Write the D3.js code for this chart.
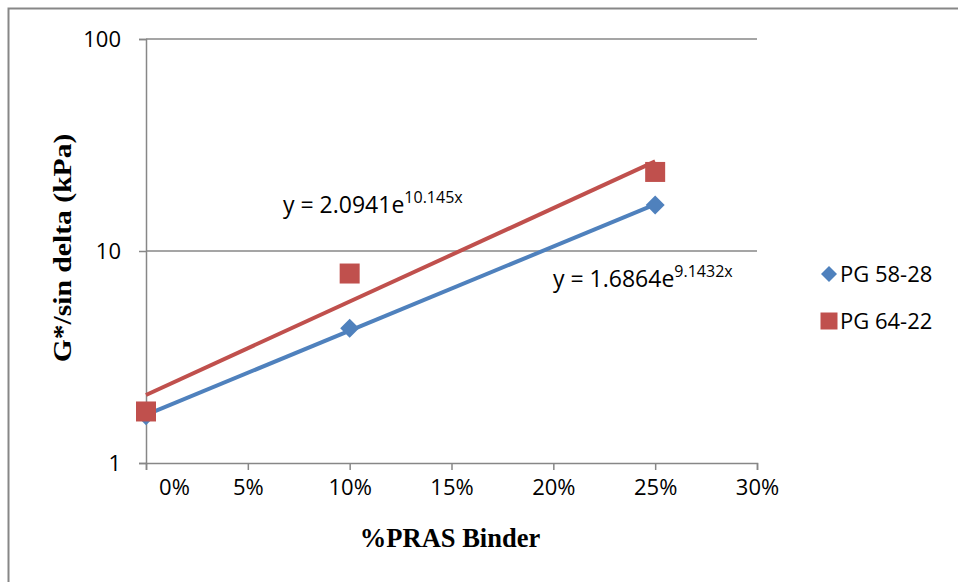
<!DOCTYPE html>
<html>
<head>
<meta charset="utf-8">
<script src="https://cdnjs.cloudflare.com/ajax/libs/d3/7.8.5/d3.min.js"></script>
<style>
  html, body { margin: 0; padding: 0; background: #fff; }
  svg { display: block; }
</style>
</head>
<body>
<svg id="chart" width="958" height="582"></svg>
<script>
// Binder content (fraction) and measured G*/sin(delta), kPa
const pras = [0, 0.10, 0.25];
const pg5828 = [1.67, 4.32, 16.5];
const pg6422 = [1.75, 7.83, 23.6];

const seriesNames = ["PG 58-28", "PG 64-22"];
const seriesColors = ["#4F81BD", "#C0504D"];

// Exponential trendline coefficients y = a * e^(b x)
const trendA = [1.6864, 2.0941];
const trendB = [9.1432, 10.145];
const trendLabelCoef = ["1.6864", "2.0941"];
const trendLabelExp = ["9.1432x", "10.145x"];

const xTicks = [0, 0.05, 0.10, 0.15, 0.20, 0.25, 0.30];
const yTicks = [1, 10, 100];

const svg = d3.select("#chart");
const labelFont = "'Open Sans', 'Noto Sans', sans-serif";
const titleFont = "'Liberation Serif', 'Times New Roman', serif";

// Outer chart frame (top and left edges)
svg.append("path")
  .attr("d", "M8.5,582 L8.5,8.5 L958,8.5")
  .attr("fill", "none")
  .attr("stroke", "#878787")
  .attr("stroke-width", 2);

const plot = { left: 146, right: 757, top: 39, bottom: 463 };

const x = d3.scaleLinear().domain([0, 0.30]).range([plot.left, plot.right]);
const y = d3.scaleLog().domain([1, 100]).range([plot.bottom, plot.top]);

const gridColor = "#878787";

// Horizontal gridlines
svg.append("g")
  .selectAll("line")
  .data(yTicks.filter(v => v > 1))
  .join("line")
  .attr("x1", plot.left).attr("x2", plot.right)
  .attr("y1", d => y(d)).attr("y2", d => y(d))
  .attr("stroke", gridColor).attr("stroke-width", 1.5);

// X axis
const xAxis = d3.axisBottom(x)
  .tickValues(xTicks)
  .tickFormat(d3.format(".0%"))
  .tickSize(7)
  .tickPadding(9);
const gx = svg.append("g")
  .attr("transform", `translate(0,${plot.bottom})`)
  .call(xAxis);
gx.select(".domain").attr("stroke", gridColor).attr("stroke-width", 1.5);
gx.selectAll(".tick line").attr("stroke", gridColor).attr("stroke-width", 1.5);
gx.selectAll(".tick text")
  .attr("font-family", labelFont).attr("font-size", 22).attr("fill", "#000");
// The first label sits just right of the value axis
gx.selectAll(".tick text").filter(d => d === 0).attr("dx", 28);

// Y axis
const yAxis = d3.axisLeft(y)
  .tickValues(yTicks)
  .tickFormat(d3.format("d"))
  .tickSize(7)
  .tickPadding(18);
const gy = svg.append("g")
  .attr("transform", `translate(${plot.left},0)`)
  .call(yAxis);
gy.select(".domain").attr("stroke", gridColor).attr("stroke-width", 1.5);
gy.selectAll(".tick line").attr("stroke", gridColor).attr("stroke-width", 1.5);
gy.selectAll(".tick text")
  .attr("font-family", labelFont).attr("font-size", 22).attr("fill", "#000");

// Trendlines
const line = d3.line().x(d => x(d[0])).y(d => y(d[1]));
trendA.forEach((a, i) => {
  const xs = [0, 0.25];
  const pts = xs.map(v => [v, a * Math.exp(trendB[i] * v)]);
  svg.append("path")
    .attr("d", line(pts))
    .attr("fill", "none")
    .attr("stroke", seriesColors[i])
    .attr("stroke-width", 4);
});

// Markers
const diamond = d3.symbol().type(d3.symbolDiamond2).size(230);
const square = d3.symbol().type(d3.symbolSquare).size(400);
const seriesData = [pg5828, pg6422];
const symbols = [diamond, square];

seriesData.forEach((vals, i) => {
  svg.append("g")
    .selectAll("path")
    .data(pras.map((p, k) => [p, vals[k]]))
    .join("path")
    .attr("d", symbols[i])
    .attr("transform", d => `translate(${x(d[0])},${y(d[1])})`)
    .attr("fill", seriesColors[i]);
});

// Trendline equations
const eqPos = [[553, 287], [283, 213]];
trendA.forEach((a, i) => {
  const t = svg.append("text")
    .attr("x", eqPos[i][0]).attr("y", eqPos[i][1])
    .attr("font-family", labelFont).attr("font-size", 23).attr("fill", "#000");
  t.append("tspan").text(`y = ${trendLabelCoef[i]}e`);
  t.append("tspan").attr("dy", -10).attr("font-size", 16).text(trendLabelExp[i]);
});

// Legend
const legend = svg.append("g");
const legY = [274, 321];
seriesNames.forEach((name, i) => {
  legend.append("path")
    .attr("d", i === 0 ? d3.symbol().type(d3.symbolDiamond2).size(163)() : d3.symbol().type(d3.symbolSquare).size(289)())
    .attr("transform", `translate(829,${legY[i]})`)
    .attr("fill", seriesColors[i]);
  legend.append("text")
    .attr("x", 840).attr("y", legY[i] + 8)
    .attr("font-family", labelFont).attr("font-size", 22).attr("fill", "#000")
    .text(name);
});

// Axis titles
svg.append("text")
  .attr("x", 450).attr("y", 547)
  .attr("text-anchor", "middle")
  .attr("font-family", titleFont).attr("font-weight", "bold").attr("font-size", 26.5)
  .text("%PRAS Binder");

svg.append("text")
  .attr("transform", "translate(71,248) rotate(-90) scale(1.14,1)")
  .attr("text-anchor", "middle")
  .attr("font-family", titleFont).attr("font-weight", "bold").attr("font-size", 26)
  .text("G*/sin delta (kPa)");
</script>
</body>
</html>
